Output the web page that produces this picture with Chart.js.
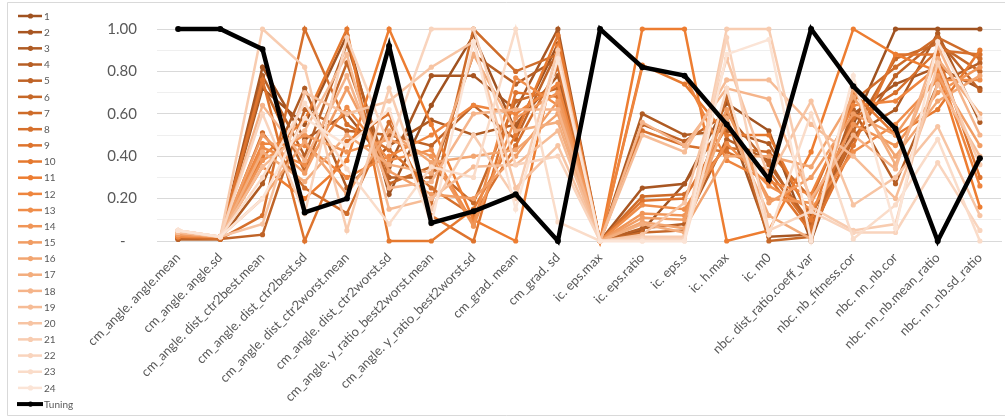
<!DOCTYPE html>
<html>
<head>
<meta charset="utf-8">
<script src="https://cdn.jsdelivr.net/npm/chart.js@4.4.1/dist/chart.umd.min.js"></script>
<style>
  html, body { margin: 0; padding: 0; background: #ffffff; }
  #wrap { width: 1005px; height: 417px; position: relative; }
</style>
</head>
<body>
<div id="wrap"><canvas id="c"></canvas></div>
<script>
// Feature names along the horizontal axis
const CATEGORIES = [
  'cm_angle. angle.mean', 'cm_angle. angle.sd', 'cm_angle. dist_ctr2best.mean',
  'cm_angle. dist_ctr2best.sd', 'cm_angle. dist_ctr2worst.mean', 'cm_angle. dist_ctr2worst.sd',
  'cm_angle. y_ratio_best2worst.mean', 'cm_angle. y_ratio_best2worst.sd', 'cm_grad. mean',
  'cm_grad. sd', 'ic. eps.max', 'ic. eps.ratio', 'ic. eps.s', 'ic. h.max', 'ic. m0',
  'nbc. dist_ratio.coeff_var', 'nbc. nb_fitness.cor', 'nbc. nn_nb.cor',
  'nbc. nn_nb.mean_ratio', 'nbc. nn_nb.sd_ratio'
];

// Normalised feature values, one array per run
const S01 = [0.01,0.01,0.72,0.55,0.97,0.22,0.64,0.97,0.52,0.93,0,0.05,0.27,0.65,0.52,0.00,0.55,1.00,1.00,1.00];
const S02 = [0.01,0.01,0.82,0.48,0.60,0.35,0.78,0.78,0.62,1.00,0,0.25,0.27,0.58,0.02,0.03,0.60,0.74,0.82,0.72];
const S03 = [0.01,0.01,0.27,0.72,0.25,0.45,0.57,0.50,0.55,0.78,0,0.60,0.50,0.52,0.46,0.12,0.50,0.62,0.98,0.56];
const S04 = [0.02,0.01,0.78,0.40,0.93,0.30,0.30,0.88,0.74,0.86,0,0.06,0.08,0.48,0.38,0.05,0.62,0.27,0.74,0.84];
const S05 = [0.01,0.01,0.03,0.62,0.52,0.50,0.45,0.64,0.48,0.90,0,0.55,0.47,0.60,0.36,0.08,0.48,0.78,0.95,0.71];
const S06 = [0.02,0.01,0.74,0.33,0.84,0.27,0.35,0.18,0.66,0.72,0,0.04,0.05,0.68,0.00,0.02,0.52,0.86,0.93,0.80];
const S07 = [0.02,0.01,0.51,0.25,0.13,0.56,0.17,1.00,0.80,0.88,0,0.21,0.22,0.44,0.42,0.20,0.66,0.82,0.96,0.86];
const S08 = [0.02,0.01,0.12,1.00,0.55,0.43,0.25,0.12,0.45,0.82,0,0.52,0.45,0.42,0.33,0.06,0.58,0.70,0.90,0.88];
const S09 = [0.02,0.02,0.76,0.00,0.47,0.60,0.12,0.00,0.70,0.68,0,0.19,0.20,0.54,0.30,0.04,0.45,0.88,0.88,0.30];
const S10 = [0.02,0.02,0.40,0.57,1.00,0.00,0.00,0.15,0.50,0.97,0,0.83,0.74,0.50,0.50,0.10,0.70,0.50,0.62,0.90];
const S11 = [0.02,0.02,0.35,0.20,0.38,1.00,0.55,0.10,0.00,0.92,0,1.00,1.00,0.00,0.05,0.42,1.00,0.88,0.80,0.16];
const S12 = [0.02,0.02,0.46,0.45,0.30,0.40,0.50,0.64,0.60,0.74,0,0.82,0.78,0.38,0.28,0.22,0.64,0.66,0.82,0.26];
const S13 = [0.03,0.02,0.44,0.36,0.63,0.38,0.43,0.08,0.77,0.64,0,0.17,0.15,0.46,0.26,0.15,0.42,0.55,0.76,0.76];
const S14 = [0.03,0.02,0.38,0.50,0.42,0.48,0.40,0.07,0.58,0.70,0,0.13,0.12,0.56,0.20,0.18,0.55,0.45,0.70,0.82];
const S15 = [0.03,0.02,0.50,0.32,0.72,0.33,0.22,0.20,0.40,0.66,0,0.11,0.10,0.62,0.18,0.30,0.60,0.50,0.78,0.45];
const S16 = [0.04,0.02,0.20,0.47,0.22,0.52,0.37,0.40,0.43,0.60,0,0.09,0.06,0.40,0.40,0.35,0.68,0.40,0.66,0.78];
const S17 = [0.04,0.02,0.42,0.28,0.50,0.36,0.32,0.88,0.52,0.56,0,0.08,0.04,0.58,0.12,0.01,0.72,0.36,0.86,0.60];
const S18 = [0.04,0.02,0.64,0.38,0.78,0.25,0.28,0.60,0.62,0.62,0,0.56,0.45,0.72,0.67,0.20,0.50,0.34,0.92,0.50];
const S19 = [0.04,0.02,0.35,0.52,0.88,0.15,0.20,0.35,0.36,0.52,0,0.50,0.42,0.76,0.76,0.55,0.40,0.20,0.74,0.40];
const S20 = [0.05,0.02,0.08,0.70,0.60,0.66,0.82,0.94,0.25,0.45,0,0.03,0.18,0.86,0.30,0.66,0.17,0.30,0.54,0.12];
const S21 = [0.05,0.02,1.00,0.82,0.05,0.72,0.15,0.50,0.20,0.90,0,0.02,0.02,1.00,1.00,0.16,0.05,0.08,0.84,0.36];
const S22 = [0.05,0.02,0.60,0.13,0.96,0.45,1.00,1.00,0.36,0.40,0,0.01,0.01,0.96,0.05,0.14,0.04,0.04,0.37,0.05];
const S23 = [0.05,0.02,0.30,0.65,0.34,0.08,0.35,0.30,1.00,0.09,0,0.00,0.00,0.72,0.03,0.60,0.01,0.17,0.48,0.00];
const S24 = [0.05,0.02,0.20,0.58,0.45,0.62,0.08,0.94,0.15,0.86,0,0.00,0.00,0.88,0.95,0.00,0.78,0.06,0.94,0.58];
const TUNING = [1.00,1.00,0.905,0.135,0.20,0.92,0.085,0.14,0.22,0.00,1.00,0.82,0.78,0.55,0.29,1.00,0.73,0.53,0.00,0.39];

const SERIES = [S01,S02,S03,S04,S05,S06,S07,S08,S09,S10,S11,S12,S13,S14,S15,S16,S17,S18,S19,S20,S21,S22,S23,S24];
const SERIES_LABELS = SERIES.map((_, i) => String(i + 1));

// Orange shades, darkest first
const COLORS = [
  '#A05220','#A85622','#AF5B23','#B75F25','#BF6327','#C66828','#CE6C2A','#D6702C',
  '#DE742E','#E5792F','#ED7D31','#EE853E','#EF8D4A','#F09557','#F19D64','#F2A570',
  '#F3AD7D','#F5B48A','#F6BC96','#F7C4A3','#F8CCB0','#F9D4BD','#FADCC9','#FBE4D6'
];

const FONT = 'Lato, "Open Sans", sans-serif';
const TEXT = '#595959';

const datasets = SERIES.map((vals, i) => ({
  label: SERIES_LABELS[i],
  data: vals,
  borderColor: COLORS[i],
  backgroundColor: COLORS[i],
  pointBackgroundColor: COLORS[i],
  pointBorderColor: COLORS[i],
  borderWidth: 2.5,
  pointRadius: 2.6,
  pointBorderWidth: 0,
  tension: 0,
  clip: false,
  order: SERIES.length - i
}));
datasets.push({
  label: 'Tuning',
  data: TUNING,
  borderColor: '#000000',
  backgroundColor: '#000000',
  pointBackgroundColor: '#000000',
  pointBorderColor: '#000000',
  borderWidth: 4.5,
  pointRadius: 3,
  pointBorderWidth: 0,
  tension: 0,
  clip: false,
  order: 0
});

// Vertical legend down the left edge: line sample with a marker, then the name
const sideLegend = {
  id: 'sideLegend',
  afterDraw(chart) {
    const ctx = chart.ctx;
    const dsList = chart.data.datasets;
    dsList.forEach((ds, i) => {
      const y = 16 + i * 16.17;
      const isTuning = ds.label === 'Tuning';
      ctx.save();
      ctx.strokeStyle = ds.borderColor;
      ctx.lineWidth = isTuning ? 4 : 2.5;
      ctx.beginPath();
      ctx.moveTo(isTuning ? 17 : 18, y);
      ctx.lineTo(isTuning ? 43 : 42, y);
      ctx.stroke();
      ctx.fillStyle = ds.borderColor;
      ctx.beginPath();
      ctx.arc(30.5, y, 2.6, 0, Math.PI * 2);
      ctx.fill();
      ctx.fillStyle = TEXT;
      ctx.font = '10px ' + FONT;
      ctx.textBaseline = 'middle';
      ctx.textAlign = 'left';
      ctx.fillText(ds.label, 44, y + 0.5);
      ctx.restore();
    });
  }
};

// White background and thin outer frame
const frame = {
  id: 'frame',
  beforeDraw(chart) {
    const ctx = chart.ctx;
    ctx.save();
    ctx.fillStyle = '#ffffff';
    ctx.fillRect(0, 0, chart.width, chart.height);
    ctx.strokeStyle = '#D9D9D9';
    ctx.lineWidth = 1;
    ctx.beginPath();
    ctx.moveTo(1010, 2.5);
    ctx.lineTo(7.5, 2.5);
    ctx.lineTo(7.5, 415.5);
    ctx.lineTo(1010, 415.5);
    ctx.stroke();
    ctx.restore();
  }
};

new Chart(document.getElementById('c'), {
  type: 'line',
  data: { labels: CATEGORIES, datasets },
  options: {
    responsive: true,
    maintainAspectRatio: false,
    devicePixelRatio: 1,
    animation: false,
    events: [],
    layout: { padding: { left: 80, top: 19, right: 1, bottom: 0 } },
    plugins: { legend: { display: false }, tooltip: { enabled: false } },
    scales: {
      x: {
        type: 'category',
        offset: true,
        grid: { display: false, drawTicks: false },
        border: { display: true, color: '#D9D9D9', width: 1 },
        ticks: {
          autoSkip: false,
          minRotation: 45,
          maxRotation: 45,
          padding: 9,
          color: TEXT,
          font: { family: FONT, size: 13 }
        },
        afterFit(scale) { scale.height = 176; }
      },
      y: {
        min: 0,
        max: 1,
        grid: {
          drawTicks: false,
          color: (c) => (Math.round(c.tick.value * 10) % 2 === 0 ? '#D9D9D9' : '#EFEFEF'),
          lineWidth: 1
        },
        border: { display: false },
        ticks: {
          stepSize: 0.1,
          autoSkip: false,
          padding: 20,
          color: TEXT,
          font: { family: FONT, size: 15 },
          callback: (v) => {
            const t = Math.round(v * 10);
            if (t === 0) return '-   ';
            return t % 2 === 0 ? (t / 10).toFixed(2) : '';
          }
        },
        afterFit(scale) { scale.width = 77; }
      }
    }
  },
  plugins: [frame, sideLegend]
});
</script>
</body>
</html>
